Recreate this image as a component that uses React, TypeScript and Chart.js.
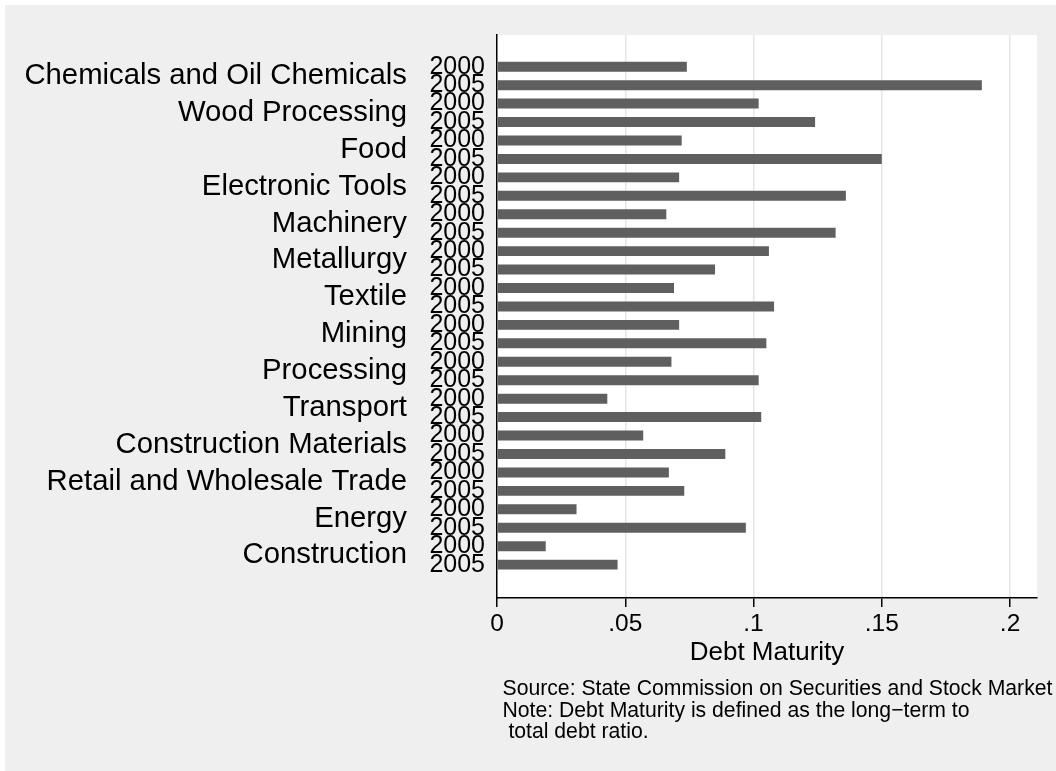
import React, { useEffect, useRef } from "react";
import { Chart, registerables } from "chart.js";

Chart.register(...registerables);

const categories = [
  "Chemicals and Oil Chemicals",
  "Wood Processing",
  "Food",
  "Electronic Tools",
  "Machinery",
  "Metallurgy",
  "Textile",
  "Mining",
  "Processing",
  "Transport",
  "Construction Materials",
  "Retail and Wholesale Trade",
  "Energy",
  "Construction",
];
const years = ["2000", "2005"];
const values2000 = [0.074, 0.102, 0.072, 0.071, 0.066, 0.106, 0.069, 0.071, 0.068, 0.043, 0.057, 0.067, 0.031, 0.019];
const values2005 = [0.189, 0.124, 0.150, 0.136, 0.132, 0.085, 0.108, 0.105, 0.102, 0.103, 0.089, 0.073, 0.097, 0.047];
const xTicks = [0, 0.05, 0.1, 0.15, 0.2];
const xTickLabels = ["0", ".05", ".1", ".15", ".2"];
const axisTitle = "Debt Maturity";
const notes = [
  "Source: State Commission on Securities and Stock Market",
  "Note: Debt Maturity is defined as the long\u2212term to",
  " total debt ratio.",
];

const FONT = "'Liberation Sans', Arial, Helvetica, sans-serif";

export default function App() {
  const ref = useRef<HTMLCanvasElement | null>(null);

  useEffect(() => {
    if (!ref.current) return;
    const rows = categories.flatMap((_, i) => [
      { x: values2000[i], y: 2 * i },
      { x: values2005[i], y: 2 * i + 1 },
    ]);
    const rowCount = rows.length;
    const yMin = -1.72;
    const yMax = rowCount - 1 + 1.81;

    const plotBg = {
      id: "plotBg",
      beforeDraw(chart: any) {
        const { ctx, chartArea } = chart;
        ctx.save();
        ctx.fillStyle = "#ffffff";
        ctx.fillRect(chartArea.left, chartArea.top, chartArea.right - chartArea.left, chartArea.bottom - chartArea.top);
        ctx.restore();
      },
    };

    const notesPlugin = {
      id: "notes",
      afterDraw(chart: any) {
        const { ctx, chartArea } = chart;
        ctx.save();
        ctx.fillStyle = "#000";
        ctx.font = `21.2px ${FONT}`;
        ctx.textAlign = "left";
        ctx.textBaseline = "alphabetic";
        notes.forEach((line, i) => {
          ctx.fillText(line, chartArea.left + 5.5, chartArea.bottom + 97 + i * 21.7);
        });
        ctx.restore();
      },
    };

    const chart = new Chart(ref.current, {
      type: "bar",
      data: {
        datasets: [
          {
            data: rows as any,
            backgroundColor: "#5f5f5f",
            borderWidth: 0,
            xAxisID: "x",
            yAxisID: "y",
            categoryPercentage: 1,
            barPercentage: 0.54,
          } as any,
        ],
      },
      options: {
        indexAxis: "y",
        animation: false,
        responsive: false,
        devicePixelRatio: 1,
        layout: { padding: { left: 0, right: 19, top: 30, bottom: 98 } },
        plugins: {
          legend: { display: false },
          tooltip: { enabled: false },
        },
        scales: {
          x: {
            type: "linear",
            position: "bottom",
            min: 0,
            max: 0.2105,
            offset: false,
            afterBuildTicks: (s: any) => {
              s.ticks = xTicks.map((v) => ({ value: v }));
            },
            afterFit: (s: any) => {
              s.height = 75;
            },
            ticks: {
              callback: (v: any) => {
                const k = xTicks.findIndex((t) => Math.abs(t - v) < 1e-9);
                return k >= 0 ? xTickLabels[k] : "";
              },
              font: { family: FONT, size: 24.5 },
              color: "#000",
              padding: 3,
              maxRotation: 0,
              autoSkip: false,
            },
            grid: {
              offset: false,
              color: (ctx: any) => (ctx.tick && ctx.tick.value === 0 ? "rgba(0,0,0,0)" : "#e4e4e4"),
              lineWidth: 1.5,
              tickColor: "#000",
              tickLength: 9,
              tickWidth: 1.5,
            },
            border: { display: true, color: "#000", width: 1.5 },
            title: {
              display: true,
              text: axisTitle,
              font: { family: FONT, size: 26 },
              color: "#000",
              padding: { top: 0, bottom: 5 },
            },
          },
          y: {
            type: "linear",
            position: "left",
            reverse: true,
            offset: false,
            min: yMin,
            max: yMax,
            weight: 0,
            afterBuildTicks: (s: any) => {
              s.ticks = rows.map((r) => ({ value: r.y }));
            },
            afterFit: (s: any) => {
              s.width = 80;
            },
            ticks: {
              callback: (v: any) => years[Math.round(v) % 2],
              font: { family: FONT, size: 25 },
              color: "#000",
              padding: 12,
              autoSkip: false,
            },
            grid: { display: true, offset: false, drawOnChartArea: false, drawTicks: false, color: "rgba(0,0,0,0)" },
            border: { display: true, color: "#000", width: 1.5 },
          },
          yCat: {
            type: "linear",
            position: "left",
            axis: "y",
            reverse: true,
            offset: false,
            min: yMin,
            max: yMax,
            weight: 1,
            afterBuildTicks: (s: any) => {
              s.ticks = categories.map((_, i) => ({ value: 2 * i + 0.5 }));
            },
            afterFit: (s: any) => {
              s.width = 412;
            },
            ticks: {
              callback: (v: any) => categories[Math.round((v - 0.5) / 2)],
              font: { family: FONT, size: 29.3 },
              color: "#000",
              padding: 10,
              autoSkip: false,
            },
            grid: { display: false, offset: false, drawTicks: false },
            border: { display: false },
          },
        } as any,
      },
      plugins: [plotBg, notesPlugin],
    });

    return () => chart.destroy();
  }, []);

  return (
    <div style={{ position: "relative", width: 1056, height: 771, background: "#ffffff" }}>
      <style>{"body{margin:0}"}</style>
      <canvas
        ref={ref}
        width={1051}
        height={766}
        style={{ position: "absolute", left: 5, top: 5, background: "#efefef" }}
      />
    </div>
  );
}
